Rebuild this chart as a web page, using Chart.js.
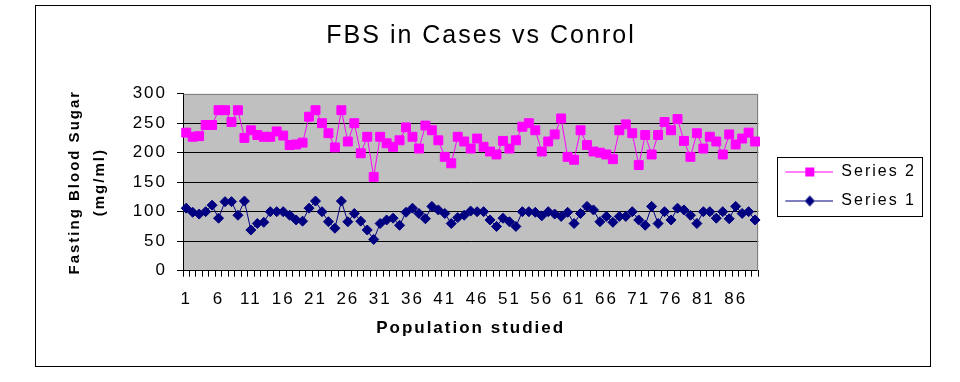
<!DOCTYPE html>
<html><head><meta charset="utf-8">
<script src="https://cdn.jsdelivr.net/npm/chart.js@4/dist/chart.umd.min.js"></script>
<style>
html,body{margin:0;padding:0;background:#fff;}
#frame{position:absolute;left:35px;top:5px;width:894px;height:360px;border:1px solid #000;}
canvas{display:block;}
</style></head><body>
<div id="frame"><canvas id="c" width="894" height="360"></canvas></div>
<script>
const titleText = 'FBS in Cases vs Conrol';
const xTitle = 'Population studied';
const yTitle = ['Fasting Blood Sugar', '(mg/ml)'];
const categories = [1,2,3,4,5,6,7,8,9,10,11,12,13,14,15,16,17,18,19,20,21,22,23,24,25,26,27,28,29,30,
  31,32,33,34,35,36,37,38,39,40,41,42,43,44,45,46,47,48,49,50,51,52,53,54,55,56,57,58,59,60,
  61,62,63,64,65,66,67,68,69,70,71,72,73,74,75,76,77,78,79,80,81,82,83,84,85,86,87,88,89];
const xTickLabels = [1,6,11,16,21,26,31,36,41,46,51,56,61,66,71,76,81,86];
const yTicks = [0,50,100,150,200,250,300];
const series2Name = 'Series 2';
const series1Name = 'Series 1';
const series2 = [234,227,228,247,247,272,272,252,272,225,238,230,227,227,236,229,213,214,217,261,
  272,250,233,209,272,219,250,199,227,159,227,216,210,221,243,227,207,246,238,221,
  193,182,227,219,207,224,210,202,197,220,207,221,244,250,238,202,219,231,258,193,
  188,238,213,202,200,197,189,238,248,233,179,230,197,230,252,238,257,220,193,233,
  207,227,219,197,231,214,224,234,219];
const series1 = [106,99,96,100,111,89,117,117,94,118,69,80,82,100,100,100,94,86,84,106,
  118,100,83,72,118,83,97,84,69,53,80,86,89,77,99,106,97,88,109,103,
  97,80,90,94,101,100,100,86,75,89,83,75,100,100,99,93,100,96,92,99,
  80,97,109,103,83,92,82,92,92,100,86,77,109,80,100,86,106,103,94,80,
  100,100,89,100,88,109,97,100,86];

const PINK = '#FF00FF', NAVY = '#000080';
const FONT = "'Liberation Sans', Arial, sans-serif";
const LS = '2px';

function legendIcon(color, style) {
  const cv = document.createElement('canvas');
  cv.width = 62; cv.height = 14;
  const g = cv.getContext('2d');
  g.strokeStyle = color; g.lineWidth = 1;
  g.beginPath(); g.moveTo(14, 7.5); g.lineTo(62, 7.5); g.stroke();
  g.fillStyle = color;
  if (style === 'rect') { g.fillRect(34, 3, 9, 9); }
  else { g.beginPath(); g.moveTo(38.5, 2); g.lineTo(43.5, 7.5); g.lineTo(38.5, 13); g.lineTo(33.5, 7.5); g.closePath(); g.fill(); }
  return cv;
}
const icons = { 'Series 2': legendIcon(PINK, 'rect'), 'Series 1': legendIcon(NAVY, 'rectRot') };

const decor = {
  id: 'decor',
  beforeUpdate(chart) { chart.ctx.letterSpacing = LS; },
  beforeLayout(chart) { chart.ctx.letterSpacing = LS; },
  beforeDraw(chart) {
    const ctx = chart.ctx; ctx.letterSpacing = LS;
    const a = chart.chartArea;
    ctx.save(); ctx.fillStyle = '#C0C0C0';
    ctx.fillRect(a.left, a.top, a.right - a.left, a.bottom - a.top);
    ctx.restore();
  },
  beforeDatasetsDraw(chart) {
    const ctx = chart.ctx, a = chart.chartArea;
    ctx.save(); ctx.strokeStyle = '#808080'; ctx.lineWidth = 1;
    ctx.beginPath();
    ctx.moveTo(Math.round(a.left) + 0.5, Math.round(a.top) + 0.5);
    ctx.lineTo(Math.round(a.right) - 0.5, Math.round(a.top) + 0.5);
    ctx.lineTo(Math.round(a.right) - 0.5, Math.round(a.bottom));
    ctx.stroke(); ctx.restore();
  },
  afterDraw(chart) {
    const hb = chart.legend && chart.legend.legendHitBoxes;
    if (!hb || !hb.length) return;
    let l = Infinity, t = Infinity, r = -Infinity, b = -Infinity;
    hb.forEach(h => { l = Math.min(l, h.left); t = Math.min(t, h.top); r = Math.max(r, h.left + h.width); b = Math.max(b, h.top + h.height); });
    const ctx = chart.ctx;
    ctx.save(); ctx.strokeStyle = '#000'; ctx.lineWidth = 1;
    ctx.strokeRect(Math.round(l + 6) + 0.5, Math.round(t - 7) + 0.5, Math.round(r - l - 6 + 6), Math.round(b - t + 14));
    ctx.restore();
  }
};

new Chart(document.getElementById('c'), {
  type: 'line',
  data: {
    labels: categories,
    datasets: [
      { label: series1Name, data: series1, borderColor: NAVY, backgroundColor: NAVY, borderWidth: 1,
        pointStyle: 'rectRot', pointRadius: 5, pointBorderWidth: 1, pointBackgroundColor: NAVY, pointBorderColor: NAVY, tension: 0 },
      { label: series2Name, data: series2, borderColor: PINK, backgroundColor: PINK, borderWidth: 1,
        pointStyle: 'rect', pointRadius: 6.3, pointBorderWidth: 1, pointBackgroundColor: PINK, pointBorderColor: PINK, tension: 0 }
    ]
  },
  plugins: [decor],
  options: {
    responsive: false,
    animation: false,
    events: [],
    layout: { padding: { left: 0, right: 4, top: 0, bottom: 0 } },
    plugins: {
      title: { display: true, text: titleText, color: '#000',
        font: { family: FONT, size: 25, weight: 'normal' }, padding: { top: 15, bottom: 42.7 } },
      legend: { position: 'right', reverse: true,
        labels: { color: '#000', font: { family: FONT, size: 16 }, padding: 13,
          usePointStyle: true, pointStyleWidth: 62,
          generateLabels(chart) {
            return chart.data.datasets.map((ds, i) => ({
              text: ds.label, pointStyle: icons[ds.label], datasetIndex: i,
              fillStyle: ds.borderColor, strokeStyle: ds.borderColor, lineWidth: 0, hidden: false, fontColor: '#000'
            }));
          } } },
      tooltip: { enabled: false }
    },
    scales: {
      x: {
        type: 'category', offset: true,
        afterFit(s) { s.height = 95.3; },
        grid: { display: true, drawOnChartArea: false, drawTicks: true, tickLength: 6, offset: true, color: '#000', tickColor: '#000' },
        border: { display: true, color: '#000', width: 1 },
        ticks: { autoSkip: false, maxRotation: 0, minRotation: 0, padding: 12, color: '#000',
          font: { family: FONT, size: 17 },
          callback(v, i) { const c = categories[i]; return xTickLabels.includes(c) ? String(c) : ''; } },
        title: { display: true, text: xTitle, color: '#000', font: { family: FONT, size: 17, weight: 'bold' }, padding: { top: 4, bottom: 27.8 } }
      },
      y: {
        min: 0, max: 300,
        afterFit(s) { s.width = 147; },
        afterBuildTicks(s) { s.ticks = yTicks.map(v => ({ value: v })); },
        grid: { color: c => (c.tick && c.tick.value === 300) ? 'rgba(0,0,0,0)' : '#000', tickColor: '#000', tickLength: 6, lineWidth: 1 },
        border: { display: true, color: '#000', width: 1 },
        ticks: { padding: 10, color: '#000', font: { family: FONT, size: 17 } },
        title: { display: true, text: yTitle, color: '#000', font: { family: FONT, size: 15, weight: 'bold', lineHeight: 1.667 }, padding: { top: 26.5, bottom: 4 } }
      }
    }
  }
});
</script>
</body></html>
